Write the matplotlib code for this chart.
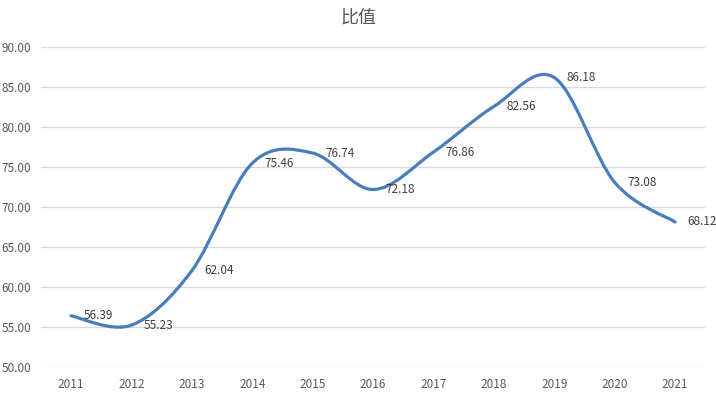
import matplotlib
matplotlib.use("Agg")
import matplotlib.pyplot as plt
import numpy as np
from matplotlib.path import Path
from matplotlib.patches import PathPatch

plt.rcParams['font.family'] = ['Noto Sans CJK SC', 'DejaVu Sans']

# DATA
years = ["2011", "2012", "2013", "2014", "2015", "2016", "2017", "2018", "2019", "2020", "2021"]
ratio = [56.39, 55.23, 62.04, 75.46, 76.74, 72.18, 76.86, 82.56, 86.18, 73.08, 68.12]
y_ticks = [50, 55, 60, 65, 70, 75, 80, 85, 90]

line_color = '#4a7ebb'
text_color = '#404040'
tick_color = '#595959'
grid_color = '#d9d9d9'

fig = plt.figure(figsize=(7.16, 3.98), dpi=100)
ax = fig.add_axes([0.057, 0.078, 0.928, 0.804])

# smoothed line like Excel (Catmull-Rom bezier between the points)
x = np.arange(len(ratio), dtype=float)
y = np.array(ratio, dtype=float)
verts = [(x[0], y[0])]
codes = [Path.MOVETO]
n = len(x)
for i in range(n - 1):
    p0 = (x[max(i - 1, 0)], y[max(i - 1, 0)])
    p1 = (x[i], y[i])
    p2 = (x[i + 1], y[i + 1])
    p3 = (x[min(i + 2, n - 1)], y[min(i + 2, n - 1)])
    c1 = (p1[0] + (p2[0] - p0[0]) / 6, p1[1] + (p2[1] - p0[1]) / 6)
    c2 = (p2[0] - (p3[0] - p1[0]) / 6, p2[1] - (p3[1] - p1[1]) / 6)
    verts += [c1, c2, p2]
    codes += [Path.CURVE4] * 3
patch = PathPatch(Path(verts, codes), facecolor='none', edgecolor=line_color,
                  lw=2.3, capstyle='round', joinstyle='round', zorder=3)
ax.add_patch(patch)

for xi, yi in zip(x, y):
    ax.annotate(f"{yi:.2f}", (xi, yi), xytext=(9, 0), textcoords='offset points',
                ha='left', va='center', fontsize=8.5, color=text_color, zorder=4)

ax.set_xlim(-0.5, n - 0.5)
ax.set_ylim(50, 90)
ax.set_xticks(x)
ax.set_xticklabels(years)
ax.set_yticks(y_ticks)
ax.set_yticklabels([f"{v:.2f}" for v in y_ticks])
ax.tick_params(length=0, labelsize=8.5, colors=tick_color, pad=8)
ax.tick_params(axis='y', pad=7)
for s in ax.spines.values():
    s.set_visible(False)
ax.grid(axis='y', color=grid_color, lw=0.9)
ax.set_axisbelow(True)

fig.text(0.5, 0.955, "比值", ha='center', va='center', fontsize=13, color=tick_color)

plt.savefig("out.png", dpi=100)
